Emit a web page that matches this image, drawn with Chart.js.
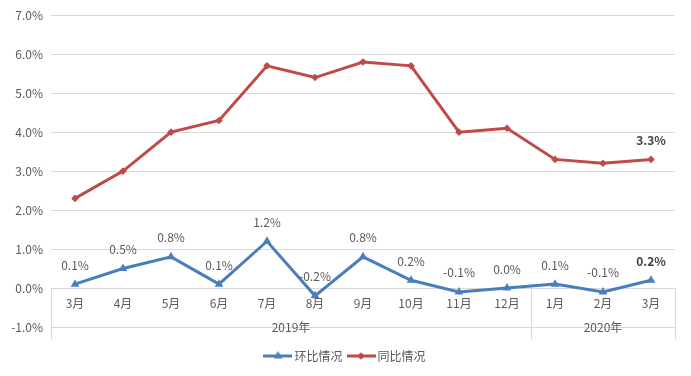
<!DOCTYPE html>
<html><head><meta charset="utf-8">
<script src="https://cdn.jsdelivr.net/npm/chart.js@4/dist/chart.umd.min.js"></script>
<style>html,body{margin:0;padding:0;background:#fff}#wrap{width:691px;height:376px;position:relative}</style>
</head><body><div id="wrap"><canvas id="c" width="691" height="376"></canvas></div>
<script>
const months = ['3月','4月','5月','6月','7月','8月','9月','10月','11月','12月','1月','2月','3月'];
const yearLabels = ['2019年','2020年'];
const yearSpans = [10, 3];
const momValues = [0.1,0.5,0.8,0.1,1.2,-0.2,0.8,0.2,-0.1,0.0,0.1,-0.1,0.2];
const yoyValues = [2.3,3.0,4.0,4.3,5.7,5.4,5.8,5.7,4.0,4.1,3.3,3.2,3.3];
const yTicks = [-1,0,1,2,3,4,5,6,7];
const seriesNames = ['环比情况','同比情况'];

const BLUE = '#4A7EBB', RED = '#BE4B48', TXT = '#595959', GRID = '#D9D9D9';
const FONT = '"Noto Sans CJK SC", "Microsoft YaHei", sans-serif';
Chart.defaults.font.family = FONT;
Chart.defaults.color = TXT;

function legendIcon(color, style, r) {
  const W = 29;
  const c = document.createElement('canvas');
  c.width = W; c.height = 12;
  const g = c.getContext('2d');
  g.strokeStyle = color; g.lineWidth = 3;
  g.beginPath(); g.moveTo(0, 6); g.lineTo(W, 6); g.stroke();
  g.fillStyle = color;
  const cx = W / 2;
  g.beginPath();
  if (style === 'triangle') {
    g.moveTo(cx, 6 - r); g.lineTo(cx + r * 0.866, 6 + r / 2); g.lineTo(cx - r * 0.866, 6 + r / 2);
  } else {
    g.moveTo(cx - r, 6); g.lineTo(cx, 6 - r); g.lineTo(cx + r, 6); g.lineTo(cx, 6 + r);
  }
  g.closePath(); g.fill();
  return c;
}

const axisPlugin = {
  id: 'excelAxis',
  afterLayout(chart) {
    if (chart.legend) chart.legend.left += 18;
  },
  beforeDatasetsDraw(chart) {
    const ctx = chart.ctx, xs = chart.scales.x, ys = chart.scales.y;
    const y0 = ys.getPixelForValue(0);
    ctx.save();
    ctx.strokeStyle = GRID; ctx.lineWidth = 1;
    let start = 0;
    const bounds = [-0.5];
    yearSpans.forEach(n => { start += n; bounds.push(start - 0.5); });
    bounds.forEach(b => {
      const x = Math.round(xs.getPixelForValue(b)) + 0.5;
      ctx.beginPath(); ctx.moveTo(x, Math.round(y0)); ctx.lineTo(x, y0 + 52); ctx.stroke();
    });
    ctx.fillStyle = TXT; ctx.font = '12px ' + FONT;
    ctx.textAlign = 'center'; ctx.textBaseline = 'middle';
    months.forEach((m, i) => ctx.fillText(m, xs.getPixelForValue(i), y0 + 15));
    start = 0;
    yearLabels.forEach((lab, k) => {
      const a = xs.getPixelForValue(start - 0.5), b = xs.getPixelForValue(start + yearSpans[k] - 0.5);
      ctx.fillText(lab, (a + b) / 2, y0 + 39);
      start += yearSpans[k];
    });
    ctx.restore();
  },
  afterDatasetsDraw(chart) {
    const ctx = chart.ctx;
    ctx.save();
    ctx.textAlign = 'center'; ctx.textBaseline = 'middle';
    chart.data.datasets.forEach((ds, di) => {
      const meta = chart.getDatasetMeta(di);
      ds.data.forEach((v, i) => {
        const last = i === ds.data.length - 1;
        if (di === 1 && !last) return;
        const pt = meta.data[i];
        ctx.font = (last ? 'bold ' : '') + '12px ' + FONT;
        ctx.fillStyle = last ? '#404040' : TXT;
        ctx.fillText(v.toFixed(1) + '%', pt.x, pt.y - 19);
      });
    });
    ctx.restore();
  }
};

new Chart(document.getElementById('c'), {
  type: 'line',
  data: {
    labels: months,
    datasets: [
      { label: seriesNames[0], data: momValues, borderColor: BLUE, backgroundColor: BLUE, borderWidth: 3,
        pointStyle: 'triangle', pointRadius: 5, pointBorderWidth: 0, tension: 0 },
      { label: seriesNames[1], data: yoyValues, borderColor: RED, backgroundColor: RED, borderWidth: 3,
        pointStyle: 'rectRot', pointRadius: 3.8, pointBorderWidth: 0, tension: 0 }
    ]
  },
  options: {
    responsive: false, animation: false, devicePixelRatio: 1,
    layout: { padding: { top: 15, right: 16, left: 0, bottom: 4 } },
    plugins: {
      tooltip: { enabled: false },
      legend: {
        position: 'bottom',
        labels: {
          usePointStyle: true, pointStyleWidth: 21, padding: 8,
          font: { size: 12, family: FONT }, color: TXT,
          generateLabels(chart) {
            return chart.data.datasets.map((ds, i) => ({
              text: ds.label, datasetIndex: i, fontColor: TXT,
              pointStyle: legendIcon(ds.borderColor, i === 0 ? 'triangle' : 'diamond', i === 0 ? 5 : 3.8),
              lineWidth: 0, strokeStyle: 'transparent', fillStyle: 'transparent', hidden: false
            }));
          }
        }
      }
    },
    scales: {
      x: { type: 'category', offset: true, display: true,
           ticks: { display: false }, grid: { display: false }, border: { display: false },
           afterFit(s) { s.height = 15; } },
      y: {
        min: -1, max: 7,
        afterBuildTicks(s) { s.ticks = yTicks.map(v => ({ value: v })); },
        afterFit(s) { s.width = 51; },
        grid: { color: GRID, lineWidth: 1, drawTicks: false },
        border: { display: false },
        ticks: { padding: 8, font: { size: 12 }, color: TXT, callback: v => Number(v).toFixed(1) + '%' }
      }
    }
  },
  plugins: [axisPlugin]
});
</script>
</body></html>
